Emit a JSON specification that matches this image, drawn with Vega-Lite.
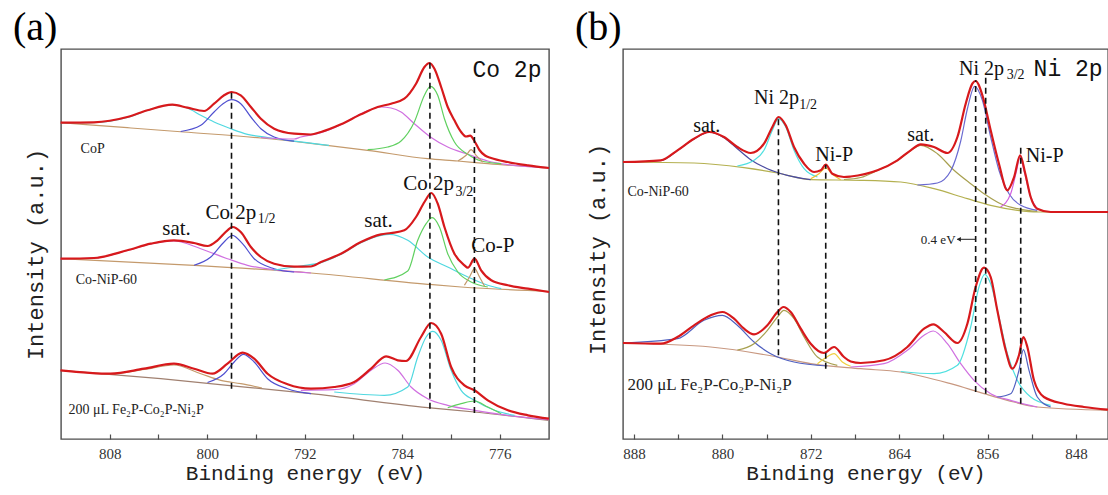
{
"$schema": "https://vega.github.io/schema/vega-lite/v6.json",
"padding": {"left": 12, "top": 7, "right": 0, "bottom": 0},
"spacing": 74,
"bounds": "flush",
"resolve": {"scale": {"color": "independent"}},
"config": {"view": {"stroke": "#4d4d4d", "strokeWidth": 1.4}, "axis": {"grid": false}},
"hconcat": [
{
"width": 488, "height": 390,
"title": {"text": "(a)", "anchor": "start", "frame": "group", "font": "Liberation Serif", "fontSize": 40, "fontWeight": "normal", "color": "#000", "dx": -48, "offset": -31, "baseline": "alphabetic"},
"layer": [
{
"data": {"values": [
{"k":"A1-bg","x":812.03,"y":316.3},{"k":"A1-bg","x":806.55,"y":311.3},{"k":"A1-bg","x":801.9,"y":307.0},{"k":"A1-bg","x":795.6,"y":301.0},{"k":"A1-bg","x":791.5,"y":295.7},{"k":"A1-bg","x":786.83,"y":288.7},{"k":"A1-bg","x":781.9,"y":280.3},{"k":"A1-bg","x":779.43,"y":278.0},{"k":"A1-bg","x":776.97,"y":275.3},{"k":"A1-bg","x":771.95,"y":271.3},
{"k":"A1-sat1","x":812.03,"y":316.3},{"k":"A1-sat1","x":809.29,"y":316.5},{"k":"A1-sat1","x":806.55,"y":321.5},{"k":"A1-sat1","x":804.9,"y":328.5},{"k":"A1-sat1","x":802.85,"y":334.0},{"k":"A1-sat1","x":801.62,"y":331.0},{"k":"A1-sat1","x":800.52,"y":323.7},{"k":"A1-sat1","x":799.43,"y":317.0},{"k":"A1-sat1","x":798.06,"y":310.3},{"k":"A1-sat1","x":796.69,"y":304.7},{"k":"A1-sat1","x":795.04,"y":301.5},{"k":"A1-sat1","x":792.86,"y":297.8},{"k":"A1-sat1","x":790.0,"y":293.7},
{"k":"A1-p12","x":802.17,"y":307.5},{"k":"A1-p12","x":800.52,"y":313.7},{"k":"A1-p12","x":799.43,"y":327.0},{"k":"A1-p12","x":798.61,"y":336.0},{"k":"A1-p12","x":798.0,"y":339.3},{"k":"A1-p12","x":797.24,"y":335.3},{"k":"A1-p12","x":796.41,"y":322.0},{"k":"A1-p12","x":795.59,"y":310.3},{"k":"A1-p12","x":794.5,"y":302.0},{"k":"A1-p12","x":792.86,"y":297.8},
{"k":"A1-sat2","x":795.59,"y":301.5},{"k":"A1-sat2","x":792.86,"y":300.0},{"k":"A1-sat2","x":792.31,"y":302.0},{"k":"A1-sat2","x":790.66,"y":306.3},{"k":"A1-sat2","x":789.02,"y":314.3},{"k":"A1-sat2","x":787.38,"y":325.3},{"k":"A1-sat2","x":785.73,"y":332.0},{"k":"A1-sat2","x":784.91,"y":331.0},{"k":"A1-sat2","x":784.09,"y":327.0},{"k":"A1-sat2","x":783.0,"y":315.3},{"k":"A1-sat2","x":781.68,"y":302.0},{"k":"A1-sat2","x":780.26,"y":292.0},{"k":"A1-sat2","x":778.61,"y":284.7},{"k":"A1-sat2","x":776.97,"y":278.0},{"k":"A1-sat2","x":775.32,"y":274.3},{"k":"A1-sat2","x":771.95,"y":271.3},
{"k":"A1-p32","x":786.83,"y":289.3},{"k":"A1-p32","x":785.18,"y":292.0},{"k":"A1-p32","x":784.09,"y":298.0},{"k":"A1-p32","x":783.0,"y":317.0},{"k":"A1-p32","x":782.17,"y":343.7},{"k":"A1-p32","x":781.68,"y":352.7},{"k":"A1-p32","x":781.08,"y":343.7},{"k":"A1-p32","x":780.53,"y":320.3},{"k":"A1-p32","x":779.71,"y":297.0},{"k":"A1-p32","x":778.61,"y":284.7},{"k":"A1-p32","x":777.52,"y":278.0},{"k":"A1-p32","x":775.87,"y":275.3},
{"k":"A1-P","x":779.43,"y":278.0},{"k":"A1-P","x":778.75,"y":283.7},{"k":"A1-P","x":778.34,"y":289.3},{"k":"A1-P","x":777.93,"y":283.7},{"k":"A1-P","x":777.38,"y":277.0},
{"k":"A1-fit","x":812.03,"y":316.3},{"k":"A1-fit","x":809.29,"y":316.7},{"k":"A1-fit","x":806.55,"y":322.0},{"k":"A1-fit","x":804.9,"y":328.7},{"k":"A1-fit","x":802.85,"y":334.3},{"k":"A1-fit","x":801.62,"y":331.3},{"k":"A1-fit","x":800.25,"y":328.0},{"k":"A1-fit","x":799.43,"y":335.3},{"k":"A1-fit","x":798.61,"y":343.7},{"k":"A1-fit","x":798.0,"y":347.0},{"k":"A1-fit","x":797.24,"y":343.7},{"k":"A1-fit","x":796.41,"y":332.0},{"k":"A1-fit","x":795.59,"y":320.3},{"k":"A1-fit","x":794.5,"y":310.3},{"k":"A1-fit","x":792.86,"y":305.3},{"k":"A1-fit","x":791.5,"y":304.5},{"k":"A1-fit","x":790.66,"y":307.0},{"k":"A1-fit","x":789.02,"y":314.7},{"k":"A1-fit","x":787.38,"y":324.7},{"k":"A1-fit","x":786.01,"y":332.0},{"k":"A1-fit","x":784.91,"y":335.3},{"k":"A1-fit","x":783.82,"y":340.3},{"k":"A1-fit","x":782.86,"y":355.3},{"k":"A1-fit","x":782.17,"y":372.0},{"k":"A1-fit","x":781.76,"y":376.0},{"k":"A1-fit","x":781.35,"y":370.3},{"k":"A1-fit","x":780.8,"y":352.0},{"k":"A1-fit","x":780.26,"y":332.0},{"k":"A1-fit","x":779.71,"y":318.7},{"k":"A1-fit","x":779.16,"y":307.0},{"k":"A1-fit","x":778.75,"y":302.5},{"k":"A1-fit","x":778.42,"y":303.3},{"k":"A1-fit","x":778.07,"y":298.0},{"k":"A1-fit","x":777.66,"y":289.0},{"k":"A1-fit","x":777.2,"y":283.5},{"k":"A1-fit","x":776.7,"y":281.0},{"k":"A1-fit","x":775.33,"y":277.0},{"k":"A1-fit","x":773.68,"y":273.7},{"k":"A1-fit","x":771.95,"y":271.0},
{"k":"A2-bg","x":812.03,"y":180.3},{"k":"A2-bg","x":801.07,"y":173.7},{"k":"A2-bg","x":791.48,"y":166.0},{"k":"A2-bg","x":781.9,"y":154.7},{"k":"A2-bg","x":779.16,"y":152.0},{"k":"A2-bg","x":771.95,"y":147.7},
{"k":"A2-sat1","x":812.03,"y":180.3},{"k":"A2-sat1","x":809.29,"y":181.0},{"k":"A2-sat1","x":806.55,"y":188.5},{"k":"A2-sat1","x":804.63,"y":195.0},{"k":"A2-sat1","x":802.72,"y":198.0},{"k":"A2-sat1","x":800.52,"y":190.3},{"k":"A2-sat1","x":798.33,"y":180.3},{"k":"A2-sat1","x":796.69,"y":173.7},{"k":"A2-sat1","x":794.5,"y":169.3},{"k":"A2-sat1","x":791.48,"y":166.0},
{"k":"A2-p12","x":801.07,"y":173.7},{"k":"A2-p12","x":799.7,"y":182.0},{"k":"A2-p12","x":798.61,"y":197.0},{"k":"A2-p12","x":797.92,"y":203.7},{"k":"A2-p12","x":797.1,"y":195.3},{"k":"A2-p12","x":796.14,"y":180.3},{"k":"A2-p12","x":794.5,"y":170.3},{"k":"A2-p12","x":792.86,"y":167.0},
{"k":"A2-sat2","x":794.5,"y":169.0},{"k":"A2-sat2","x":792.31,"y":173.0},{"k":"A2-sat2","x":790.66,"y":176.3},{"k":"A2-sat2","x":789.02,"y":184.7},{"k":"A2-sat2","x":787.38,"y":196.3},{"k":"A2-sat2","x":785.73,"y":203.7},{"k":"A2-sat2","x":785.05,"y":204.7},{"k":"A2-sat2","x":783.54,"y":198.7},{"k":"A2-sat2","x":781.9,"y":182.0},{"k":"A2-sat2","x":780.26,"y":172.0},{"k":"A2-sat2","x":778.61,"y":162.0},{"k":"A2-sat2","x":776.97,"y":153.7},{"k":"A2-sat2","x":775.87,"y":150.3},
{"k":"A2-p32","x":785.46,"y":159.0},{"k":"A2-p32","x":783.54,"y":168.0},{"k":"A2-p32","x":782.72,"y":198.7},{"k":"A2-p32","x":782.03,"y":215.3},{"k":"A2-p32","x":781.54,"y":221.3},{"k":"A2-p32","x":780.94,"y":212.0},{"k":"A2-p32","x":780.26,"y":185.3},{"k":"A2-p32","x":779.43,"y":167.0},{"k":"A2-p32","x":778.34,"y":157.0},{"k":"A2-p32","x":776.97,"y":152.0},
{"k":"A2-P","x":778.89,"y":153.7},{"k":"A2-P","x":778.47,"y":162.0},{"k":"A2-P","x":778.06,"y":170.3},{"k":"A2-P","x":777.65,"y":162.0},{"k":"A2-P","x":777.24,"y":152.7},
{"k":"A2-fit","x":812.03,"y":180.3},{"k":"A2-fit","x":809.29,"y":181.0},{"k":"A2-fit","x":806.55,"y":188.7},{"k":"A2-fit","x":804.63,"y":195.3},{"k":"A2-fit","x":802.72,"y":198.7},{"k":"A2-fit","x":801.07,"y":196.0},{"k":"A2-fit","x":799.97,"y":193.0},{"k":"A2-fit","x":799.15,"y":198.7},{"k":"A2-fit","x":798.33,"y":208.7},{"k":"A2-fit","x":797.92,"y":212.0},{"k":"A2-fit","x":797.24,"y":207.0},{"k":"A2-fit","x":796.41,"y":192.0},{"k":"A2-fit","x":795.59,"y":182.0},{"k":"A2-fit","x":794.5,"y":175.3},{"k":"A2-fit","x":792.86,"y":172.3},{"k":"A2-fit","x":791.5,"y":172.5},{"k":"A2-fit","x":790.66,"y":177.0},{"k":"A2-fit","x":789.02,"y":185.3},{"k":"A2-fit","x":787.38,"y":197.0},{"k":"A2-fit","x":785.73,"y":204.7},{"k":"A2-fit","x":784.91,"y":206.0},{"k":"A2-fit","x":783.82,"y":208.7},{"k":"A2-fit","x":782.86,"y":222.0},{"k":"A2-fit","x":782.17,"y":237.0},{"k":"A2-fit","x":781.6,"y":246.0},{"k":"A2-fit","x":781.08,"y":235.3},{"k":"A2-fit","x":780.53,"y":212.0},{"k":"A2-fit","x":779.71,"y":185.3},{"k":"A2-fit","x":778.89,"y":173.7},{"k":"A2-fit","x":778.61,"y":171.3},{"k":"A2-fit","x":778.06,"y":180.3},{"k":"A2-fit","x":777.52,"y":168.7},{"k":"A2-fit","x":776.69,"y":158.7},{"k":"A2-fit","x":775.32,"y":153.7},{"k":"A2-fit","x":773.68,"y":150.3},{"k":"A2-fit","x":771.95,"y":147.0},
{"k":"A3-bg","x":812.03,"y":68.7},{"k":"A3-bg","x":803.81,"y":60.3},{"k":"A3-bg","x":798.33,"y":53.7},{"k":"A3-bg","x":791.48,"y":45.3},{"k":"A3-bg","x":781.9,"y":31.3},{"k":"A3-bg","x":778.06,"y":27.0},{"k":"A3-bg","x":771.95,"y":18.7},
{"k":"A3-sat1","x":809.5,"y":66.5},{"k":"A3-sat1","x":807.92,"y":65.0},{"k":"A3-sat1","x":805.18,"y":69.5},{"k":"A3-sat1","x":802.72,"y":74.0},{"k":"A3-sat1","x":800.52,"y":65.3},{"k":"A3-sat1","x":798.88,"y":58.7},{"k":"A3-sat1","x":797.24,"y":55.3},{"k":"A3-sat1","x":795.5,"y":51.0},
{"k":"A3-p12","x":799.97,"y":56.5},{"k":"A3-p12","x":798.61,"y":65.3},{"k":"A3-p12","x":797.78,"y":77.0},{"k":"A3-p12","x":797.02,"y":84.7},{"k":"A3-p12","x":796.14,"y":77.0},{"k":"A3-p12","x":795.04,"y":60.3},{"k":"A3-p12","x":793.4,"y":50.3},{"k":"A3-p12","x":791.48,"y":45.3},
{"k":"A3-sat2","x":792.31,"y":48.7},{"k":"A3-sat2","x":789.57,"y":49.3},{"k":"A3-sat2","x":787.93,"y":55.3},{"k":"A3-sat2","x":786.55,"y":68.7},{"k":"A3-sat2","x":785.4,"y":76.0},{"k":"A3-sat2","x":784.36,"y":68.7},{"k":"A3-sat2","x":783.27,"y":52.0},{"k":"A3-sat2","x":781.9,"y":40.3},{"k":"A3-sat2","x":780.26,"y":33.7},{"k":"A3-sat2","x":778.06,"y":28.7},{"k":"A3-sat2","x":775.32,"y":23.7},{"k":"A3-sat2","x":771.95,"y":19.3},
{"k":"A3-p32","x":789.57,"y":47.0},{"k":"A3-p32","x":785.46,"y":43.7},{"k":"A3-p32","x":783.54,"y":52.0},{"k":"A3-p32","x":782.72,"y":82.0},{"k":"A3-p32","x":782.03,"y":102.0},{"k":"A3-p32","x":781.48,"y":107.7},{"k":"A3-p32","x":780.8,"y":98.7},{"k":"A3-p32","x":779.98,"y":68.7},{"k":"A3-p32","x":779.16,"y":48.7},{"k":"A3-p32","x":778.06,"y":38.7},{"k":"A3-p32","x":776.42,"y":28.7},{"k":"A3-p32","x":774.78,"y":23.7},
{"k":"A3-P","x":780.26,"y":31.3},{"k":"A3-P","x":779.16,"y":35.3},{"k":"A3-P","x":778.06,"y":38.0},{"k":"A3-P","x":776.97,"y":32.0},{"k":"A3-P","x":775.87,"y":25.3},
{"k":"A3-fit","x":812.03,"y":68.7},{"k":"A3-fit","x":807.92,"y":65.3},{"k":"A3-fit","x":805.18,"y":70.3},{"k":"A3-fit","x":802.72,"y":75.3},{"k":"A3-fit","x":801.07,"y":70.3},{"k":"A3-fit","x":799.56,"y":65.3},{"k":"A3-fit","x":798.33,"y":75.3},{"k":"A3-fit","x":797.1,"y":86.3},{"k":"A3-fit","x":796.14,"y":80.3},{"k":"A3-fit","x":795.04,"y":65.3},{"k":"A3-fit","x":793.4,"y":54.7},{"k":"A3-fit","x":791.48,"y":50.3},{"k":"A3-fit","x":789.57,"y":52.0},{"k":"A3-fit","x":787.93,"y":57.0},{"k":"A3-fit","x":786.55,"y":70.3},{"k":"A3-fit","x":785.32,"y":82.7},{"k":"A3-fit","x":784.36,"y":78.7},{"k":"A3-fit","x":783.68,"y":78.0},{"k":"A3-fit","x":782.45,"y":102.0},{"k":"A3-fit","x":781.62,"y":116.0},{"k":"A3-fit","x":780.8,"y":105.3},{"k":"A3-fit","x":779.98,"y":72.0},{"k":"A3-fit","x":778.89,"y":53.7},{"k":"A3-fit","x":778.06,"y":48.7},{"k":"A3-fit","x":776.97,"y":38.7},{"k":"A3-fit","x":775.32,"y":28.7},{"k":"A3-fit","x":773.68,"y":23.7},{"k":"A3-fit","x":771.95,"y":20.3}
]},
"layer": [
{"transform": [{"filter": "indexof(datum.k, 'fit') < 0"}],
 "mark": {"type": "line", "strokeWidth": 1.2, "interpolate": "monotone"},
 "encoding": {
  "x": {"field": "x", "type": "quantitative", "scale": {"domain": [811.99, 771.95], "nice": false, "zero": false},
   "axis": {"values": [808,804,800,796,792,788,784,780,776], "format": "d", "labelExpr": "datum.value % 8 === 0 ? datum.label : ''", "tickSize": -5, "tickColor": "#4d4d4d", "tickWidth": 1.2, "domain": false, "labelFont": "Liberation Serif", "labelFontSize": 15, "labelColor": "#333", "labelPadding": 12, "labelOverlap": false, "labelFlush": false, "title": "Binding energy (eV)", "titleFont": "Liberation Mono", "titleFontSize": 21, "titleFontWeight": "normal", "titleColor": "#222", "titlePadding": 1}},
  "y": {"field": "y", "type": "quantitative", "scale": {"domain": [0, 390], "nice": false, "zero": false},
   "axis": {"title": "Intensity (a.u.)", "titleFont": "Liberation Mono", "titleFontSize": 22, "titleFontWeight": "normal", "titleColor": "#222", "labels": false, "ticks": false, "domain": false, "titlePadding": 14, "titleY": 205}},
  "color": {"field": "k", "type": "nominal", "legend": null,
   "scale": {"domain": ["A1-fit","A1-bg","A1-sat1","A1-p12","A1-sat2","A1-p32","A1-P","A2-fit","A2-bg","A2-sat1","A2-p12","A2-sat2","A2-p32","A2-P","A3-fit","A3-bg","A3-sat1","A3-p12","A3-sat2","A3-p32","A3-P"],
    "range": ["#d7191c","#c49a6c","#50d8e0","#5050d0","#d070e0","#60d060","#c49a6c","#d7191c","#c49a6c","#d070e0","#5050d0","#50d8e0","#60d060","#c49a6c","#d7191c","#a08070","#c49a6c","#5050d0","#d070e0","#50d8e0","#60d060"]}}
 }},
{"transform": [{"filter": "indexof(datum.k, 'fit') >= 0"}],
 "mark": {"type": "line", "strokeWidth": 2.2, "interpolate": "monotone"},
 "encoding": {
  "x": {"field": "x", "type": "quantitative"},
  "y": {"field": "y", "type": "quantitative"},
  "color": {"field": "k", "type": "nominal", "legend": null}
 }}
]
},
{
"data": {"values": [{"x":798.0,"y":50.3,"y2":347.0},{"x":781.72,"y":30.3,"y2":377.0},{"x":778.07,"y":26.0,"y2":310.3}]},
"mark": {"type": "rule", "strokeDash": [6, 4], "strokeWidth": 1.6, "color": "#111"},
"encoding": {"x": {"field": "x", "type": "quantitative"}, "y": {"field": "y", "type": "quantitative"}, "y2": {"field": "y2"}}
},
{
"data": {"values": [{"t":"sat.","x":802.51,"y":203.7},{"t":"Co 2p","x":798.06,"y":220.0},{"t":"sat.","x":785.94,"y":212.0},{"t":"Co 2p","x":781.83,"y":248.7},{"t":"Co-P","x":776.56,"y":187.0}]},
"mark": {"type": "text", "font": "Liberation Serif", "fontSize": 21, "align": "center", "baseline": "alphabetic", "color": "#111"},
"encoding": {"x": {"field": "x", "type": "quantitative"}, "y": {"field": "y", "type": "quantitative"}, "text": {"field": "t"}}
},
{
"data": {"values": [{"t":"1/2","x":795.12,"y":216.0},{"t":"3/2","x":778.89,"y":242.7}]},
"mark": {"type": "text", "font": "Liberation Serif", "fontSize": 14, "align": "center", "baseline": "alphabetic", "color": "#111"},
"encoding": {"x": {"field": "x", "type": "quantitative"}, "y": {"field": "y", "type": "quantitative"}, "text": {"field": "t"}}
},
{
"data": {"values": [{"t":"CoP","x":810.38,"y":286.0},{"t":"Co-NiP-60","x":810.79,"y":155.3},{"t":"200 μL Fe₂P-Co₂P-Ni₂P","x":811.37,"y":25.3}]},
"mark": {"type": "text", "font": "Liberation Serif", "fontSize": 14, "align": "left", "baseline": "alphabetic", "color": "#222"},
"encoding": {"x": {"field": "x", "type": "quantitative"}, "y": {"field": "y", "type": "quantitative"}, "text": {"field": "t"}}
},
{
"data": {"values": [{"t":"Co 2p","x":775.4,"y":362.0}]},
"mark": {"type": "text", "font": "Liberation Mono", "fontSize": 23, "align": "center", "baseline": "alphabetic", "color": "#111"},
"encoding": {"x": {"field": "x", "type": "quantitative"}, "y": {"field": "y", "type": "quantitative"}, "text": {"field": "t"}}
}
]
},
{
"width": 485, "height": 390,
"title": {"text": "(b)", "anchor": "start", "frame": "group", "font": "Liberation Serif", "fontSize": 40, "fontWeight": "normal", "color": "#000", "dx": -48, "offset": -31, "baseline": "alphabetic"},
"layer": [
{
"data": {"values": [
{"k":"B1-bg","x":889.0,"y":277.0},{"k":"B1-bg","x":882.57,"y":276.0},{"k":"B1-bg","x":878.05,"y":271.3},{"k":"B1-bg","x":875.02,"y":266.0},{"k":"B1-bg","x":872.01,"y":259.3},{"k":"B1-bg","x":867.48,"y":258.7},{"k":"B1-bg","x":863.86,"y":257.0},{"k":"B1-bg","x":860.85,"y":250.3},{"k":"B1-bg","x":857.83,"y":240.3},{"k":"B1-bg","x":855.72,"y":233.7},{"k":"B1-bg","x":853.3,"y":228.7},{"k":"B1-bg","x":851.5,"y":227.0},{"k":"B1-bg","x":845.1,"y":227.0},
{"k":"B1-sat1","x":889.0,"y":277.0},{"k":"B1-sat1","x":885.58,"y":278.5},{"k":"B1-sat1","x":884.07,"y":288.5},{"k":"B1-sat1","x":882.57,"y":300.0},{"k":"B1-sat1","x":881.21,"y":306.8},{"k":"B1-sat1","x":879.86,"y":301.3},{"k":"B1-sat1","x":878.65,"y":290.3},{"k":"B1-sat1","x":877.44,"y":279.3},{"k":"B1-sat1","x":875.93,"y":270.3},{"k":"B1-sat1","x":874.12,"y":263.7},{"k":"B1-sat1","x":872.01,"y":259.3},
{"k":"B1-p12","x":878.65,"y":273.0},{"k":"B1-p12","x":877.14,"y":278.7},{"k":"B1-p12","x":876.24,"y":288.7},{"k":"B1-p12","x":875.48,"y":308.7},{"k":"B1-p12","x":874.93,"y":320.3},{"k":"B1-p12","x":874.27,"y":312.0},{"k":"B1-p12","x":873.52,"y":288.7},{"k":"B1-p12","x":872.61,"y":270.3},{"k":"B1-p12","x":871.4,"y":262.0},
{"k":"B1-P1","x":872.01,"y":260.3},{"k":"B1-P1","x":871.26,"y":265.3},{"k":"B1-P1","x":870.65,"y":271.0},{"k":"B1-P1","x":870.05,"y":264.7},{"k":"B1-P1","x":869.3,"y":259.3},
{"k":"B1-sat2","x":869.0,"y":259.5},{"k":"B1-sat2","x":867.48,"y":261.5},{"k":"B1-sat2","x":865.97,"y":268.5},{"k":"B1-sat2","x":864.16,"y":278.5},{"k":"B1-sat2","x":862.96,"y":288.5},{"k":"B1-sat2","x":862.05,"y":293.7},{"k":"B1-sat2","x":860.54,"y":285.3},{"k":"B1-sat2","x":859.04,"y":268.7},{"k":"B1-sat2","x":857.53,"y":255.3},{"k":"B1-sat2","x":856.32,"y":245.3},{"k":"B1-sat2","x":854.82,"y":235.3},{"k":"B1-sat2","x":853.3,"y":230.3},{"k":"B1-sat2","x":851.5,"y":227.5},
{"k":"B1-p32","x":862.35,"y":254.0},{"k":"B1-p32","x":860.54,"y":256.0},{"k":"B1-p32","x":859.34,"y":268.0},{"k":"B1-p32","x":858.43,"y":298.0},{"k":"B1-p32","x":857.83,"y":330.0},{"k":"B1-p32","x":857.17,"y":352.7},{"k":"B1-p32","x":856.47,"y":338.7},{"k":"B1-p32","x":855.72,"y":302.0},{"k":"B1-p32","x":854.97,"y":268.7},{"k":"B1-p32","x":854.06,"y":245.3},{"k":"B1-p32","x":853.0,"y":233.7},{"k":"B1-p32","x":851.5,"y":228.7},
{"k":"B1-P2","x":854.82,"y":232.0},{"k":"B1-P2","x":853.91,"y":245.3},{"k":"B1-P2","x":853.37,"y":268.7},{"k":"B1-P2","x":853.07,"y":282.0},{"k":"B1-P2","x":852.71,"y":268.7},{"k":"B1-P2","x":852.1,"y":242.0},{"k":"B1-P2","x":851.5,"y":230.3},
{"k":"B1-fit","x":889.0,"y":277.0},{"k":"B1-fit","x":885.58,"y":278.7},{"k":"B1-fit","x":884.07,"y":288.7},{"k":"B1-fit","x":882.57,"y":300.3},{"k":"B1-fit","x":881.21,"y":307.0},{"k":"B1-fit","x":879.86,"y":302.0},{"k":"B1-fit","x":878.65,"y":292.0},{"k":"B1-fit","x":877.44,"y":286.0},{"k":"B1-fit","x":876.24,"y":295.3},{"k":"B1-fit","x":875.48,"y":312.0},{"k":"B1-fit","x":874.93,"y":322.0},{"k":"B1-fit","x":874.27,"y":313.7},{"k":"B1-fit","x":873.52,"y":292.0},{"k":"B1-fit","x":872.61,"y":275.3},{"k":"B1-fit","x":871.71,"y":267.0},{"k":"B1-fit","x":871.1,"y":268.7},{"k":"B1-fit","x":870.65,"y":274.3},{"k":"B1-fit","x":870.05,"y":265.3},{"k":"B1-fit","x":869.0,"y":262.0},{"k":"B1-fit","x":868.39,"y":262.5},{"k":"B1-fit","x":865.97,"y":268.7},{"k":"B1-fit","x":864.16,"y":278.7},{"k":"B1-fit","x":862.96,"y":288.7},{"k":"B1-fit","x":862.05,"y":294.7},{"k":"B1-fit","x":860.85,"y":292.0},{"k":"B1-fit","x":859.64,"y":286.0},{"k":"B1-fit","x":858.73,"y":302.0},{"k":"B1-fit","x":857.98,"y":335.3},{"k":"B1-fit","x":857.38,"y":355.3},{"k":"B1-fit","x":857.08,"y":358.0},{"k":"B1-fit","x":856.47,"y":343.7},{"k":"B1-fit","x":855.72,"y":308.7},{"k":"B1-fit","x":854.97,"y":275.3},{"k":"B1-fit","x":854.21,"y":248.7},{"k":"B1-fit","x":853.6,"y":262.0},{"k":"B1-fit","x":853.05,"y":283.7},{"k":"B1-fit","x":852.6,"y":266.0},{"k":"B1-fit","x":852.1,"y":242.0},{"k":"B1-fit","x":851.5,"y":230.3},{"k":"B1-fit","x":850.29,"y":227.0},{"k":"B1-fit","x":845.1,"y":227.0},
{"k":"B2-bg","x":889.0,"y":96.0},{"k":"B2-bg","x":881.06,"y":92.0},{"k":"B2-bg","x":875.02,"y":82.0},{"k":"B2-bg","x":872.01,"y":75.3},{"k":"B2-bg","x":867.48,"y":70.3},{"k":"B2-bg","x":863.86,"y":67.0},{"k":"B2-bg","x":859.34,"y":55.3},{"k":"B2-bg","x":856.32,"y":45.3},{"k":"B2-bg","x":854.21,"y":38.7},{"k":"B2-bg","x":851.5,"y":32.0},{"k":"B2-bg","x":845.1,"y":28.7},
{"k":"B2-sat1","x":889.0,"y":96.0},{"k":"B2-sat1","x":884.07,"y":100.3},{"k":"B2-sat1","x":881.67,"y":118.7},{"k":"B2-sat1","x":880.0,"y":123.7},{"k":"B2-sat1","x":878.65,"y":113.7},{"k":"B2-sat1","x":877.14,"y":97.0},{"k":"B2-sat1","x":875.63,"y":85.3},{"k":"B2-sat1","x":873.52,"y":77.0},{"k":"B2-sat1","x":870.5,"y":73.0},
{"k":"B2-p12","x":878.65,"y":89.0},{"k":"B2-p12","x":877.14,"y":95.3},{"k":"B2-p12","x":875.93,"y":108.7},{"k":"B2-p12","x":875.02,"y":122.0},{"k":"B2-p12","x":874.43,"y":128.7},{"k":"B2-p12","x":873.52,"y":120.3},{"k":"B2-p12","x":872.61,"y":102.0},{"k":"B2-p12","x":871.4,"y":82.0},{"k":"B2-p12","x":869.6,"y":73.7},
{"k":"B2-P1","x":871.4,"y":75.3},{"k":"B2-P1","x":870.65,"y":81.3},{"k":"B2-P1","x":869.9,"y":85.3},{"k":"B2-P1","x":869.15,"y":77.0},{"k":"B2-P1","x":868.39,"y":72.7},
{"k":"B2-sat2","x":868.39,"y":72.0},{"k":"B2-sat2","x":865.37,"y":75.3},{"k":"B2-sat2","x":863.26,"y":88.7},{"k":"B2-sat2","x":861.75,"y":103.7},{"k":"B2-sat2","x":860.91,"y":108.0},{"k":"B2-sat2","x":859.64,"y":95.3},{"k":"B2-sat2","x":858.43,"y":75.3},{"k":"B2-sat2","x":857.23,"y":58.7},{"k":"B2-sat2","x":855.72,"y":45.3},{"k":"B2-sat2","x":853.91,"y":38.7},{"k":"B2-sat2","x":851.5,"y":32.0},
{"k":"B2-p32","x":863.86,"y":67.5},{"k":"B2-p32","x":860.85,"y":65.3},{"k":"B2-p32","x":858.73,"y":73.7},{"k":"B2-p32","x":857.53,"y":112.0},{"k":"B2-p32","x":856.78,"y":152.0},{"k":"B2-p32","x":856.26,"y":164.7},{"k":"B2-p32","x":855.72,"y":155.3},{"k":"B2-p32","x":854.97,"y":122.0},{"k":"B2-p32","x":854.21,"y":85.3},{"k":"B2-p32","x":853.31,"y":58.7},{"k":"B2-p32","x":852.1,"y":42.0},{"k":"B2-p32","x":850.29,"y":33.7},
{"k":"B2-P2","x":855.12,"y":42.0},{"k":"B2-P2","x":853.91,"y":45.3},{"k":"B2-P2","x":853.16,"y":68.7},{"k":"B2-P2","x":852.76,"y":89.3},{"k":"B2-P2","x":852.25,"y":68.7},{"k":"B2-P2","x":851.5,"y":42.0},{"k":"B2-P2","x":850.29,"y":32.0},
{"k":"B2-fit","x":889.0,"y":96.0},{"k":"B2-fit","x":885.58,"y":95.3},{"k":"B2-fit","x":884.07,"y":102.0},{"k":"B2-fit","x":882.57,"y":113.7},{"k":"B2-fit","x":881.06,"y":123.7},{"k":"B2-fit","x":880.0,"y":127.0},{"k":"B2-fit","x":878.95,"y":120.3},{"k":"B2-fit","x":878.05,"y":110.3},{"k":"B2-fit","x":877.14,"y":104.7},{"k":"B2-fit","x":875.93,"y":113.7},{"k":"B2-fit","x":875.02,"y":127.0},{"k":"B2-fit","x":874.48,"y":132.0},{"k":"B2-fit","x":873.82,"y":127.0},{"k":"B2-fit","x":872.91,"y":110.3},{"k":"B2-fit","x":872.01,"y":95.3},{"k":"B2-fit","x":870.81,"y":86.0},{"k":"B2-fit","x":869.9,"y":92.0},{"k":"B2-fit","x":869.0,"y":82.0},{"k":"B2-fit","x":868.39,"y":77.5},{"k":"B2-fit","x":867.48,"y":76.0},{"k":"B2-fit","x":865.37,"y":78.7},{"k":"B2-fit","x":863.26,"y":92.0},{"k":"B2-fit","x":861.75,"y":110.3},{"k":"B2-fit","x":860.91,"y":114.7},{"k":"B2-fit","x":859.94,"y":107.0},{"k":"B2-fit","x":858.73,"y":96.0},{"k":"B2-fit","x":857.83,"y":115.3},{"k":"B2-fit","x":857.08,"y":152.0},{"k":"B2-fit","x":856.32,"y":171.3},{"k":"B2-fit","x":855.72,"y":162.0},{"k":"B2-fit","x":855.12,"y":128.7},{"k":"B2-fit","x":854.36,"y":88.7},{"k":"B2-fit","x":853.76,"y":70.3},{"k":"B2-fit","x":853.16,"y":83.7},{"k":"B2-fit","x":852.76,"y":102.0},{"k":"B2-fit","x":852.4,"y":92.0},{"k":"B2-fit","x":851.8,"y":58.7},{"k":"B2-fit","x":850.9,"y":42.0},{"k":"B2-fit","x":849.09,"y":35.3},{"k":"B2-fit","x":847.28,"y":32.0},{"k":"B2-fit","x":845.1,"y":29.3}
]},
"layer": [
{"transform": [{"filter": "indexof(datum.k, 'fit') < 0"}],
 "mark": {"type": "line", "strokeWidth": 1.2, "interpolate": "monotone"},
 "encoding": {
  "x": {"field": "x", "type": "quantitative", "scale": {"domain": [889.0, 845.1], "nice": false, "zero": false},
   "axis": {"values": [888,884,880,876,872,868,864,860,856,852,848], "format": "d", "labelExpr": "datum.value % 8 === 0 ? datum.label : ''", "tickSize": -5, "tickColor": "#4d4d4d", "tickWidth": 1.2, "domain": false, "labelFont": "Liberation Serif", "labelFontSize": 15, "labelColor": "#333", "labelPadding": 12, "labelOverlap": false, "labelFlush": false, "title": "Binding energy (eV)", "titleFont": "Liberation Mono", "titleFontSize": 21, "titleFontWeight": "normal", "titleColor": "#222", "titlePadding": 1}},
  "y": {"field": "y", "type": "quantitative", "scale": {"domain": [0, 390], "nice": false, "zero": false},
   "axis": {"title": "Intensity (a.u.)", "titleFont": "Liberation Mono", "titleFontSize": 22, "titleFontWeight": "normal", "titleColor": "#222", "labels": false, "ticks": false, "domain": false, "titlePadding": 14, "titleY": 200}},
  "color": {"field": "k", "type": "nominal", "legend": null,
   "scale": {"domain": ["B1-fit","B1-bg","B1-sat1","B1-p12","B1-P1","B1-sat2","B1-p32","B1-P2","B2-fit","B2-bg","B2-sat1","B2-p12","B2-P1","B2-sat2","B2-p32","B2-P2"],
    "range": ["#d7191c","#b4b050","#4b4ba0","#50e0e0","#f0c030","#a8a050","#6a6ad0","#d060e0","#d7191c","#c89880","#5060c0","#a8a050","#f0d040","#d070e0","#50e0e0","#5060c0"]}}
 }},
{"transform": [{"filter": "indexof(datum.k, 'fit') >= 0"}],
 "mark": {"type": "line", "strokeWidth": 2.2, "interpolate": "monotone"},
 "encoding": {
  "x": {"field": "x", "type": "quantitative"},
  "y": {"field": "y", "type": "quantitative"},
  "color": {"field": "k", "type": "nominal", "legend": null}
 }}
]
},
{
"data": {"values": [{"x":874.93,"y":83.7,"y2":322.0},{"x":870.65,"y":70.3,"y2":274.3},{"x":857.08,"y":47.0,"y2":358.7},{"x":856.17,"y":45.3,"y2":363.0},{"x":853.0,"y":35.3,"y2":295.3}]},
"mark": {"type": "rule", "strokeDash": [6, 4], "strokeWidth": 1.6, "color": "#111"},
"encoding": {"x": {"field": "x", "type": "quantitative"}, "y": {"field": "y", "type": "quantitative"}, "y2": {"field": "y2"}}
},
{
"data": {"values": [{"x":858.75,"x2":857.08,"y":199.7}]},
"mark": {"type": "rule", "strokeWidth": 1, "color": "#222"},
"encoding": {"x": {"field": "x", "type": "quantitative"}, "x2": {"field": "x2"}, "y": {"field": "y", "type": "quantitative"}}
},
{
"data": {"values": [{"x":858.6,"y":199.7}]},
"mark": {"type": "point", "shape": "triangle-left", "filled": true, "size": 22, "color": "#222", "opacity": 1},
"encoding": {"x": {"field": "x", "type": "quantitative"}, "y": {"field": "y", "type": "quantitative"}}
},
{
"data": {"values": [{"t":"0.4 eV","x":858.9,"y":195.3}]},
"mark": {"type": "text", "font": "Liberation Serif", "fontSize": 13, "align": "right", "baseline": "alphabetic", "color": "#222"},
"encoding": {"x": {"field": "x", "type": "quantitative"}, "y": {"field": "y", "type": "quantitative"}, "text": {"field": "t"}}
},
{
"data": {"values": [{"t":"sat.","x":881.42,"y":307.0},{"t":"Ni 2p","x":875.1,"y":335.3},{"t":"Ni-P","x":869.88,"y":278.0},{"t":"sat.","x":862.05,"y":298.0},{"t":"Ni 2p","x":856.55,"y":363.7},{"t":"Ni-P","x":850.83,"y":277.0}]},
"mark": {"type": "text", "font": "Liberation Serif", "fontSize": 20, "align": "center", "baseline": "alphabetic", "color": "#111"},
"encoding": {"x": {"field": "x", "type": "quantitative"}, "y": {"field": "y", "type": "quantitative"}, "text": {"field": "t"}}
},
{
"data": {"values": [{"t":"1/2","x":872.24,"y":330.3},{"t":"3/2","x":853.46,"y":360.3}]},
"mark": {"type": "text", "font": "Liberation Serif", "fontSize": 14, "align": "center", "baseline": "alphabetic", "color": "#111"},
"encoding": {"x": {"field": "x", "type": "quantitative"}, "y": {"field": "y", "type": "quantitative"}, "text": {"field": "t"}}
},
{
"data": {"values": [{"t":"Co-NiP-60","x":888.6,"y":242.7}]},
"mark": {"type": "text", "font": "Liberation Serif", "fontSize": 14, "align": "left", "baseline": "alphabetic", "color": "#222"},
"encoding": {"x": {"field": "x", "type": "quantitative"}, "y": {"field": "y", "type": "quantitative"}, "text": {"field": "t"}}
},
{
"data": {"values": [{"t":"200 μL Fe₂P-Co₂P-Ni₂P","x":888.6,"y":49.3}]},
"mark": {"type": "text", "font": "Liberation Serif", "fontSize": 17, "align": "left", "baseline": "alphabetic", "color": "#222"},
"encoding": {"x": {"field": "x", "type": "quantitative"}, "y": {"field": "y", "type": "quantitative"}, "text": {"field": "t"}}
},
{
"data": {"values": [{"t":"Ni 2p","x":848.71,"y":362.7}]},
"mark": {"type": "text", "font": "Liberation Mono", "fontSize": 23, "align": "center", "baseline": "alphabetic", "color": "#111"},
"encoding": {"x": {"field": "x", "type": "quantitative"}, "y": {"field": "y", "type": "quantitative"}, "text": {"field": "t"}}
}
]
}
]
}
